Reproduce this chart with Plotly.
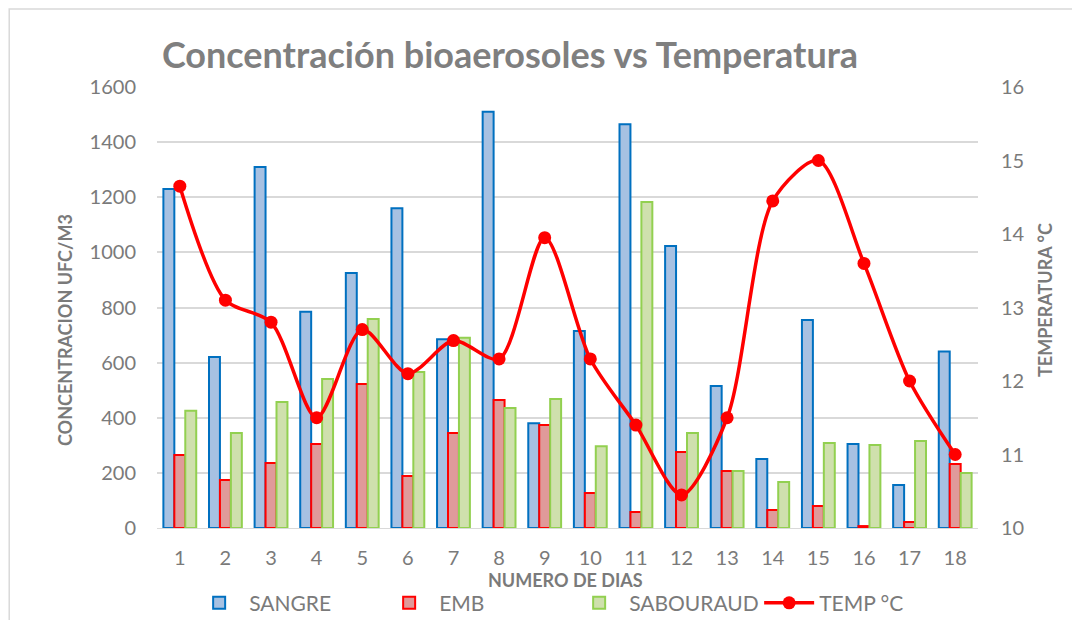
import plotly.graph_objects as go

# data
dias = [str(d) for d in range(1, 19)]
sangre = [1230, 620, 1310, 785, 925, 1160, 685, 1510, 380, 715, 1465, 1023, 515, 250, 755, 305, 156, 640]
emb = [265, 174, 236, 305, 522, 189, 345, 464, 374, 127, 58, 276, 207, 65, 80, 7, 22, 232]
sabouraud = [425, 345, 457, 541, 758, 566, 690, 435, 468, 297, 1183, 345, 207, 167, 308, 301, 316, 200]
temp = [14.65, 13.1, 12.8, 11.5, 12.7, 12.1, 12.55, 12.3, 13.95, 12.3, 11.4, 10.45, 11.5, 14.45, 15.0, 13.6, 12.0, 11.0]

FONT = "Lato"
GREY = "#7a7a7a"

fig = go.Figure()
fig.add_trace(go.Bar(x=dias, y=sangre, name="SANGRE",
                     marker=dict(color="#a7c1e2", line=dict(color="#0070c0", width=2))))
fig.add_trace(go.Bar(x=dias, y=emb, name="EMB",
                     marker=dict(color="#e09a9a", line=dict(color="#ff0000", width=2))))
fig.add_trace(go.Bar(x=dias, y=sabouraud, name="SABOURAUD",
                     marker=dict(color="#cfe0ad", line=dict(color="#92d050", width=2))))
fig.add_trace(go.Scatter(x=dias, y=temp, name="TEMP °C", yaxis="y2", mode="lines+markers",
                         line=dict(color="#ff0000", width=3.5, shape="spline", smoothing=0.8),
                         marker=dict(color="#ff0000", size=13)))

# axis titles as annotations (standoff is ignored with automargin off)
axis_font = dict(size=18, color=GREY, family=FONT)
titles = [
    dict(text="<b>NUMERO DE DIAS</b>", x=0.497, y=-0.118, textangle=0),
    dict(text="<b>CONCENTRACION UFC/M3</b>", x=-0.112, y=0.449, textangle=-90),
    dict(text="<b>TEMPERATURA °C</b>", x=1.0816, y=0.517, textangle=-90),
]
annotations = [dict(xref="paper", yref="paper", xanchor="center", yanchor="middle",
                    showarrow=False, font=axis_font, **t) for t in titles]

# the page body adds 8px, so left/top margins are 8px smaller than the target positions
fig.update_layout(
    width=1080, height=620,
    margin=dict(l=149, r=110, t=79, b=100, autoexpand=False),
    paper_bgcolor="white", plot_bgcolor="white",
    font=dict(family=FONT, color=GREY, size=20),
    barmode="group", bargap=0.28, bargroupgap=0,
    title=dict(text="<b>Concentración bioaerosoles vs Temperatura</b>",
               font=dict(size=36, color="#7f7f7f", family=FONT),
               x=0.43, xref="paper", xanchor="center", y=0.924, yref="container", yanchor="middle"),
    xaxis=dict(range=[-0.5, 17.5], showgrid=False, showline=True, linecolor="#d9d9d9", linewidth=1,
               automargin=False, ticks="", ticklabelstandoff=12, tickfont=dict(size=20, color=GREY)),
    yaxis=dict(range=[0, 1600], dtick=200, showgrid=True, gridcolor="#d9d9d9", gridwidth=1.5,
               zeroline=False, ticks="", ticklabelstandoff=20, automargin=False,
               tickfont=dict(size=20, color=GREY)),
    yaxis2=dict(range=[10, 16], dtick=1, overlaying="y", side="right", showgrid=False, automargin=False,
                zeroline=False, ticks="", ticklabelstandoff=22, tickfont=dict(size=20, color=GREY)),
    legend=dict(orientation="h", x=0.502, xanchor="center", yref="container", y=0.04, yanchor="middle",
                font=dict(size=21, color=GREY), traceorder="normal", itemwidth=50,
                entrywidth=125, entrywidthmode="pixels"),
    annotations=annotations,
    shapes=[dict(type="rect", xref="paper", yref="paper", x0=-0.18, x1=1.3, y0=-0.4, y1=1.177,
                 line=dict(color="#d9d9d9", width=1.5), layer="below")],
)

fig.write_html("out.html")
